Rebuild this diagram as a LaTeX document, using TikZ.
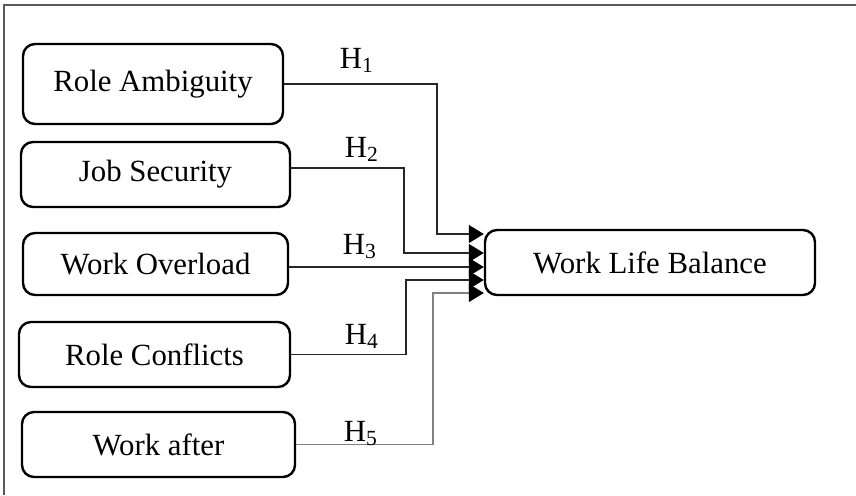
\documentclass[tikz,border=0pt]{standalone}
\usepackage{fontspec}
\setmainfont{Liberation Serif}
\usepackage{tikz}
\usetikzlibrary{%
  positioning
 ,arrows.meta
 ,calc
}
\tikzstyle{var}=[draw=black,line width=1.2pt,rounded corners=6pt,inner sep=0pt,
  minimum height=32.5pt,font=\fontsize{15.4}{18}\selectfont]
\tikzstyle{hl}=[inner sep=0pt,anchor=base,font=\fontsize{15.4}{18}\selectfont]
\begin{document}
\begin{tikzpicture}[x=0.5pt,y=-0.5pt,
    link/.style={draw=black!85,line width=0.6pt,
      -{Triangle[length=7.5pt,width=9pt,black]}}]
  \useasboundingbox (0,0) rectangle (856,495);
  % the frame
  \draw[black!65,line width=1pt] (4,495) -- (4,5) -- (856,5);
  % the boxes
  \node[var,minimum width=130pt,minimum height=40pt](ra)at(153,84){Role Ambiguity};
  \node[var,minimum width=134.5pt](js)at(155.5,174.5){Job Security};
  \node[var,minimum width=132.5pt,minimum height=31pt](wo)at(155.5,264){Work Overload};
  \node[var,minimum width=135.5pt](rc)at(154.5,354.5){Role Conflicts};
  \node[var,minimum width=136.5pt](wa)at(158.5,444.5){Work after};
  \node[var,minimum width=165pt](wlb)at(650,262.5){Work Life Balance};
  % the bends
  \coordinate(b1)at(437,234);\coordinate(b2)at(404,253);
  \coordinate(b4)at(406,280);\coordinate(b5)at(433,293);
  % the arrows
  \draw[link] (ra.east) -| (b1) -- (b1-|wlb.west);
  \draw[link] ([yshift=3.25pt]js.east) -| (b2) -- (b2-|wlb.west);
  \draw[link] ([yshift=-1.5pt]wo.east) -- ([yshift=-1.5pt]wo.east-|wlb.west);
  \draw[link] (rc.east) -| (b4) -- (b4-|wlb.west);
  \draw[link,draw=black!50] (wa.east) -| (b5) -- (b5-|wlb.west);
  % the labels
  \node[hl](h1)at(357,68){H\textsubscript{1}};
  \node[hl](h2)at(362,157){H\textsubscript{2}};
  \node[hl](h3)at(360,254){H\textsubscript{3}};
  \node[hl](h4)at(362,344){H\textsubscript{4}};
  \node[hl](h5)at(361,441){H\textsubscript{5}};
\end{tikzpicture}
\end{document}
